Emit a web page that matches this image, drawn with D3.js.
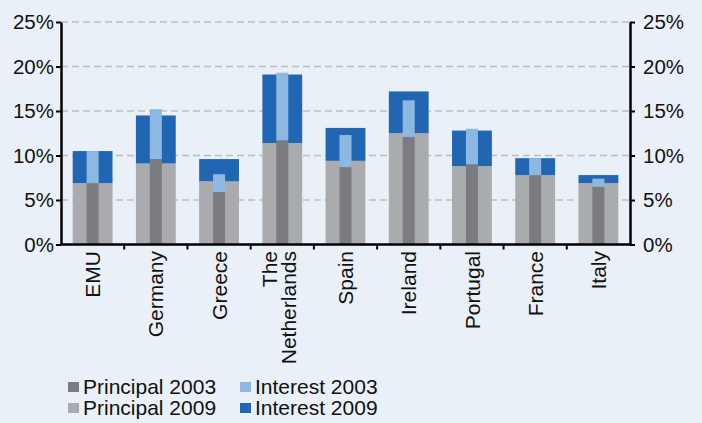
<!DOCTYPE html>
<html>
<head>
<meta charset="utf-8">
<script src="https://cdn.jsdelivr.net/npm/d3@7"></script>
<style>
  html, body { margin: 0; padding: 0; background: #e9f0f7; }
  svg { display: block; font-family: "Liberation Sans", Arial, sans-serif; }
</style>
</head>
<body>
<svg id="chart" width="702" height="423"></svg>
<script>
// Debt service by country, % of GDP: principal and interest, 2003 vs 2009
const categories = ["EMU", "Germany", "Greece", "The Netherlands", "Spain", "Ireland", "Portugal", "France", "Italy"];
const principal2003 = [6.9, 9.6, 5.9, 11.7, 8.7, 12.1, 9.0, 7.8, 6.5];
const interest2003  = [3.6, 5.6, 2.0, 7.6, 3.6, 4.1, 4.0, 1.9, 0.9];
const principal2009 = [6.9, 9.1, 7.1, 11.4, 9.4, 12.5, 8.8, 7.8, 6.9];
const interest2009  = [3.6, 5.4, 2.5, 7.7, 3.7, 4.7, 4.0, 1.9, 0.9];
const yTicks = [0, 5, 10, 15, 20, 25];

const colors = {
  p2003: "#7b7c81",
  i2003: "#8cb8e2",
  p2009: "#a9abaf",
  i2009: "#2166b3"
};

const svg = d3.select("#chart");
const plotLeft = 61, plotRight = 630, plotTop = 22, plotBottom = 244.5;

const x = d3.scaleBand().domain(categories).range([plotLeft, plotRight]).padding(0);
const y = d3.scaleLinear().domain([0, 25]).range([plotBottom, plotTop]);

// dashed gridlines
svg.append("g")
  .selectAll("line")
  .data(yTicks.filter(d => d > 0))
  .join("line")
  .attr("x1", plotLeft).attr("x2", plotRight)
  .attr("y1", d => y(d)).attr("y2", d => y(d))
  .attr("stroke", "#bdbdbd")
  .attr("stroke-width", 1.5)
  .attr("stroke-dasharray", "7,4");

const wide = x.step() * 0.63;
const narrow = x.step() * 0.19;

const rows = categories.map((c, i) => ({
  c,
  p03: principal2003[i], i03: interest2003[i],
  p09: principal2009[i], i09: interest2009[i]
}));

const bars = svg.append("g");
// 2009: wide stacked bars
bars.selectAll(".p09").data(rows).join("rect").attr("class", "p09")
  .attr("x", d => x(d.c) + x.bandwidth() / 2 - wide / 2)
  .attr("width", wide)
  .attr("y", d => y(d.p09))
  .attr("height", d => y(0) - y(d.p09))
  .attr("fill", colors.p2009);
bars.selectAll(".i09").data(rows).join("rect").attr("class", "i09")
  .attr("x", d => x(d.c) + x.bandwidth() / 2 - wide / 2)
  .attr("width", wide)
  .attr("y", d => y(d.p09 + d.i09))
  .attr("height", d => y(d.p09) - y(d.p09 + d.i09))
  .attr("fill", colors.i2009);
// 2003: narrow stacked bars in front
bars.selectAll(".p03").data(rows).join("rect").attr("class", "p03")
  .attr("x", d => x(d.c) + x.bandwidth() / 2 - narrow / 2)
  .attr("width", narrow)
  .attr("y", d => y(d.p03))
  .attr("height", d => y(0) - y(d.p03))
  .attr("fill", colors.p2003);
bars.selectAll(".i03").data(rows).join("rect").attr("class", "i03")
  .attr("x", d => x(d.c) + x.bandwidth() / 2 - narrow / 2)
  .attr("width", narrow)
  .attr("y", d => y(d.p03 + d.i03))
  .attr("height", d => y(d.p03) - y(d.p03 + d.i03))
  .attr("fill", colors.i2003);

// axes
const fmt = d => d + "%";
const axisStyle = g => {
  g.select(".domain").attr("stroke", "#000").attr("stroke-width", 2.5);
  g.selectAll(".tick line").attr("stroke", "#000").attr("stroke-width", 2);
  g.selectAll(".tick text").attr("fill", "#111").style("font-size", "20.5px");
};

svg.append("g")
  .attr("transform", `translate(${plotLeft},0)`)
  .call(d3.axisLeft(y).tickValues(yTicks).tickFormat(fmt).tickSize(5).tickSizeOuter(0).tickPadding(2))
  .call(axisStyle);

svg.append("g")
  .attr("transform", `translate(${plotRight},0)`)
  .call(d3.axisRight(y).tickValues(yTicks).tickFormat(fmt).tickSize(5).tickSizeOuter(0).tickPadding(8))
  .call(axisStyle);

// x axis with ticks between categories
const xAxis = svg.append("g").attr("transform", `translate(0,${plotBottom})`);
xAxis.append("line")
  .attr("x1", plotLeft - 1).attr("x2", plotRight + 1)
  .attr("stroke", "#000").attr("stroke-width", 2.5);
xAxis.selectAll(".sep")
  .data(categories.slice(1))
  .join("line").attr("class", "sep")
  .attr("x1", d => x(d)).attr("x2", d => x(d))
  .attr("y1", 0).attr("y2", 5)
  .attr("stroke", "#000").attr("stroke-width", 2);

// rotated category labels
const labels = xAxis.selectAll(".lbl")
  .data(categories)
  .join("text").attr("class", "lbl")
  .attr("transform", d => {
    const lines = d === "The Netherlands" ? 2 : 1;
    const cx = x(d) + x.bandwidth() / 2 - (lines - 1) * 12.5;
    return `translate(${cx},6.5) rotate(-90)`;
  })
  .attr("text-anchor", "end")
  .attr("fill", "#111")
  .style("font-size", "21px");
labels.each(function (d) {
  const parts = d === "The Netherlands" ? ["The", "Netherlands"] : [d];
  const t = d3.select(this);
  parts.forEach((p, i) => {
    t.append("tspan")
      .attr("x", 0)
      .attr("dy", i === 0 ? "0.36em" : "19px")
      .text(p);
  });
});

// legend
const legendItems = [
  { label: "Principal 2003", color: colors.p2003, col: 0, row: 0 },
  { label: "Interest 2003", color: colors.i2003, col: 1, row: 0 },
  { label: "Principal 2009", color: colors.p2009, col: 0, row: 1 },
  { label: "Interest 2009", color: colors.i2009, col: 1, row: 1 }
];
const legend = svg.append("g");
const lg = legend.selectAll("g").data(legendItems).join("g")
  .attr("transform", d => `translate(${68 + d.col * 172},${382 + d.row * 21})`);
lg.append("rect").attr("width", 11).attr("height", 10).attr("fill", d => d.color);
lg.append("text")
  .attr("x", 15).attr("y", 11.5)
  .attr("fill", "#111")
  .style("font-size", "21px")
  .text(d => d.label);
</script>
</body>
</html>
